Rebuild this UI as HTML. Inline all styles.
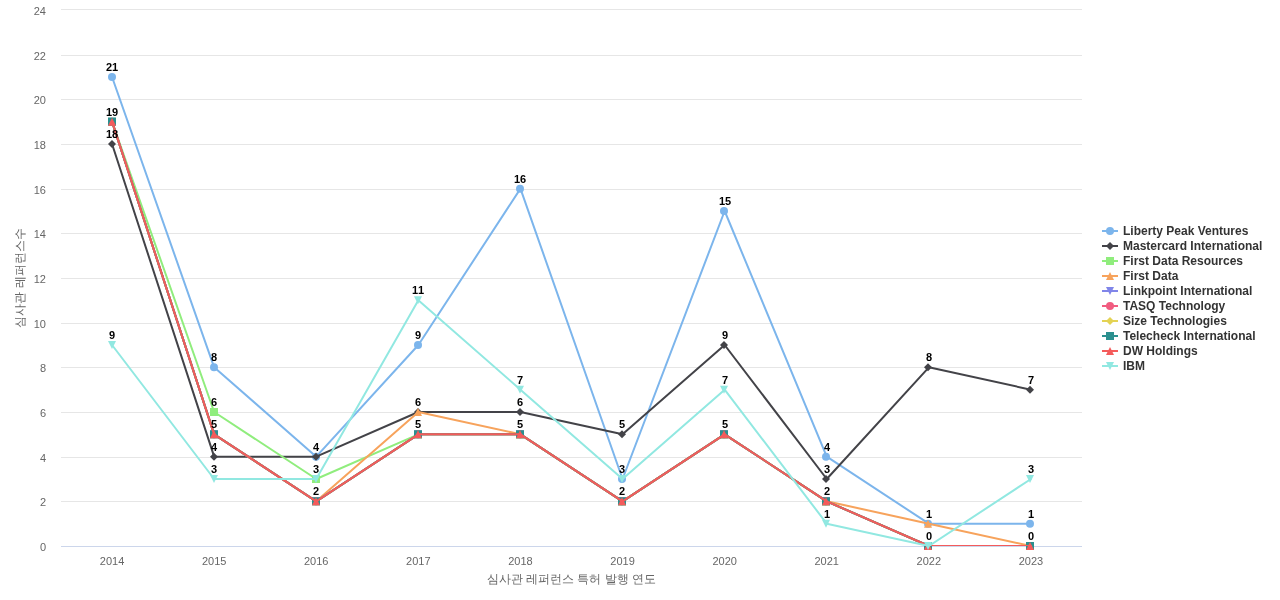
<!DOCTYPE html>
<html lang="ko"><head><meta charset="utf-8"><title>심사관 레퍼런스 수</title>
<style>html,body{margin:0;padding:0;background:#fff;overflow:hidden}body{width:1280px;height:600px}svg{display:block;font-family:'Liberation Sans', 'WenQuanYi Zen Hei', sans-serif;font-size:12px}.ax text{fill:#666;font-size:11px}.ttl{fill:#666;font-size:12px}.grid path{stroke:#e6e6e6;stroke-width:1;fill:none}.ln{fill:none;stroke-width:2;stroke-linejoin:round;stroke-linecap:round}.dl text{font-size:11px;font-weight:bold;fill:#000;font-kerning:none}.lg text{font-size:12px;font-weight:bold;fill:#333}</style></head><body>
<svg width="1280" height="600" viewBox="0 0 1280 600">
<defs><clipPath id="pc"><rect x="0" y="0" width="1021" height="536"/></clipPath></defs>
<rect x="0" y="0" width="1280" height="600" fill="#ffffff"/>
<g class="grid">
<path d="M61 546.5L1082 546.5"/>
<path d="M61 501.5L1082 501.5"/>
<path d="M61 457.5L1082 457.5"/>
<path d="M61 412.5L1082 412.5"/>
<path d="M61 367.5L1082 367.5"/>
<path d="M61 323.5L1082 323.5"/>
<path d="M61 278.5L1082 278.5"/>
<path d="M61 233.5L1082 233.5"/>
<path d="M61 189.5L1082 189.5"/>
<path d="M61 144.5L1082 144.5"/>
<path d="M61 99.5L1082 99.5"/>
<path d="M61 55.5L1082 55.5"/>
<path d="M61 9.5L1082 9.5"/>
</g>
<path d="M61 546.5L1082 546.5" stroke="#ccd6eb" stroke-width="1" fill="none"/>
<text class="ttl" x="487 499 511 523 526 538 550 562 574 577 589 601 605 617 629 632 644" y="583">심사관 레퍼런스 특허 발행 연도</text>
<text class="ttl" transform="translate(24 278) rotate(-90)" x="-50 -38 -26 -14 -10 2 14 26 38" y="0">심사관 레퍼런스수</text>
<g transform="translate(61 10)">
<g clip-path="url(#pc)"><path class="ln" stroke="#7cb5ec" d="M51.05 67L153.15 357.33L255.25 446.67L357.35 335L459.45 178.67L561.55 469L663.65 201L765.75 446.67L867.85 513.67L969.95 513.67"/></g>
<g fill="#7cb5ec"><circle cx="51" cy="67" r="4"/><circle cx="153" cy="357.33" r="4"/><circle cx="255" cy="446.67" r="4"/><circle cx="357" cy="335" r="4"/><circle cx="459" cy="178.67" r="4"/><circle cx="561" cy="469" r="4"/><circle cx="663" cy="201" r="4"/><circle cx="765" cy="446.67" r="4"/><circle cx="867" cy="513.67" r="4"/><circle cx="969" cy="513.67" r="4"/></g>
</g>
<g transform="translate(61 10)">
<g clip-path="url(#pc)"><path class="ln" stroke="#434348" d="M51.05 134L153.15 446.67L255.25 446.67L357.35 402L459.45 402L561.55 424.33L663.65 335L765.75 469L867.85 357.33L969.95 379.67"/></g>
<g fill="#434348"><path d="M51 130L55 134 51 138 47 134Z"/><path d="M153 442.67L157 446.67 153 450.67 149 446.67Z"/><path d="M255 442.67L259 446.67 255 450.67 251 446.67Z"/><path d="M357 398L361 402 357 406 353 402Z"/><path d="M459 398L463 402 459 406 455 402Z"/><path d="M561 420.33L565 424.33 561 428.33 557 424.33Z"/><path d="M663 331L667 335 663 339 659 335Z"/><path d="M765 465L769 469 765 473 761 469Z"/><path d="M867 353.33L871 357.33 867 361.33 863 357.33Z"/><path d="M969 375.67L973 379.67 969 383.67 965 379.67Z"/></g>
</g>
<g transform="translate(61 10)">
<g clip-path="url(#pc)"><path class="ln" stroke="#90ed7d" d="M51.05 111.67L153.15 402L255.25 469L357.35 424.33L459.45 424.33L561.55 491.33L663.65 424.33L765.75 491.33L867.85 536L969.95 536"/></g>
<g fill="#90ed7d"><path d="M47 107.67h8v8h-8Z"/><path d="M149 398h8v8h-8Z"/><path d="M251 465h8v8h-8Z"/><path d="M353 420.33h8v8h-8Z"/><path d="M455 420.33h8v8h-8Z"/><path d="M557 487.33h8v8h-8Z"/><path d="M659 420.33h8v8h-8Z"/><path d="M761 487.33h8v8h-8Z"/><path d="M863 532h8v8h-8Z"/><path d="M965 532h8v8h-8Z"/></g>
</g>
<g transform="translate(61 10)">
<g clip-path="url(#pc)"><path class="ln" stroke="#f7a35c" d="M51.05 111.67L153.15 424.33L255.25 491.33L357.35 402L459.45 424.33L561.55 491.33L663.65 424.33L765.75 491.33L867.85 513.67L969.95 536"/></g>
<g fill="#f7a35c"><path d="M51 107.67L55 115.67 47 115.67Z"/><path d="M153 420.33L157 428.33 149 428.33Z"/><path d="M255 487.33L259 495.33 251 495.33Z"/><path d="M357 398L361 406 353 406Z"/><path d="M459 420.33L463 428.33 455 428.33Z"/><path d="M561 487.33L565 495.33 557 495.33Z"/><path d="M663 420.33L667 428.33 659 428.33Z"/><path d="M765 487.33L769 495.33 761 495.33Z"/><path d="M867 509.67L871 517.67 863 517.67Z"/><path d="M969 532L973 540 965 540Z"/></g>
</g>
<g transform="translate(61 10)">
<g clip-path="url(#pc)"><path class="ln" stroke="#8085e9" d="M51.05 111.67L153.15 424.33L255.25 491.33L357.35 424.33L459.45 424.33L561.55 491.33L663.65 424.33L765.75 491.33L867.85 536L969.95 536"/></g>
<g fill="#8085e9"><path d="M47 107.67L55 107.67 51 115.67Z"/><path d="M149 420.33L157 420.33 153 428.33Z"/><path d="M251 487.33L259 487.33 255 495.33Z"/><path d="M353 420.33L361 420.33 357 428.33Z"/><path d="M455 420.33L463 420.33 459 428.33Z"/><path d="M557 487.33L565 487.33 561 495.33Z"/><path d="M659 420.33L667 420.33 663 428.33Z"/><path d="M761 487.33L769 487.33 765 495.33Z"/><path d="M863 532L871 532 867 540Z"/><path d="M965 532L973 532 969 540Z"/></g>
</g>
<g transform="translate(61 10)">
<g clip-path="url(#pc)"><path class="ln" stroke="#f15c80" d="M51.05 111.67L153.15 424.33L255.25 491.33L357.35 424.33L459.45 424.33L561.55 491.33L663.65 424.33L765.75 491.33L867.85 536L969.95 536"/></g>
<g fill="#f15c80"><circle cx="51" cy="111.67" r="4"/><circle cx="153" cy="424.33" r="4"/><circle cx="255" cy="491.33" r="4"/><circle cx="357" cy="424.33" r="4"/><circle cx="459" cy="424.33" r="4"/><circle cx="561" cy="491.33" r="4"/><circle cx="663" cy="424.33" r="4"/><circle cx="765" cy="491.33" r="4"/><circle cx="867" cy="536" r="4"/><circle cx="969" cy="536" r="4"/></g>
</g>
<g transform="translate(61 10)">
<g clip-path="url(#pc)"><path class="ln" stroke="#e4d354" d="M51.05 111.67L153.15 424.33L255.25 491.33L357.35 424.33L459.45 424.33L561.55 491.33L663.65 424.33L765.75 491.33L867.85 536L969.95 536"/></g>
<g fill="#e4d354"><path d="M51 107.67L55 111.67 51 115.67 47 111.67Z"/><path d="M153 420.33L157 424.33 153 428.33 149 424.33Z"/><path d="M255 487.33L259 491.33 255 495.33 251 491.33Z"/><path d="M357 420.33L361 424.33 357 428.33 353 424.33Z"/><path d="M459 420.33L463 424.33 459 428.33 455 424.33Z"/><path d="M561 487.33L565 491.33 561 495.33 557 491.33Z"/><path d="M663 420.33L667 424.33 663 428.33 659 424.33Z"/><path d="M765 487.33L769 491.33 765 495.33 761 491.33Z"/><path d="M867 532L871 536 867 540 863 536Z"/><path d="M969 532L973 536 969 540 965 536Z"/></g>
</g>
<g transform="translate(61 10)">
<g clip-path="url(#pc)"><path class="ln" stroke="#2b908f" d="M51.05 111.67L153.15 424.33L255.25 491.33L357.35 424.33L459.45 424.33L561.55 491.33L663.65 424.33L765.75 491.33L867.85 536L969.95 536"/></g>
<g fill="#2b908f"><path d="M47 107.67h8v8h-8Z"/><path d="M149 420.33h8v8h-8Z"/><path d="M251 487.33h8v8h-8Z"/><path d="M353 420.33h8v8h-8Z"/><path d="M455 420.33h8v8h-8Z"/><path d="M557 487.33h8v8h-8Z"/><path d="M659 420.33h8v8h-8Z"/><path d="M761 487.33h8v8h-8Z"/><path d="M863 532h8v8h-8Z"/><path d="M965 532h8v8h-8Z"/></g>
</g>
<g transform="translate(61 10)">
<g clip-path="url(#pc)"><path class="ln" stroke="#f45b5b" d="M51.05 111.67L153.15 424.33L255.25 491.33L357.35 424.33L459.45 424.33L561.55 491.33L663.65 424.33L765.75 491.33L867.85 536L969.95 536"/></g>
<g fill="#f45b5b"><path d="M51 107.67L55 115.67 47 115.67Z"/><path d="M153 420.33L157 428.33 149 428.33Z"/><path d="M255 487.33L259 495.33 251 495.33Z"/><path d="M357 420.33L361 428.33 353 428.33Z"/><path d="M459 420.33L463 428.33 455 428.33Z"/><path d="M561 487.33L565 495.33 557 495.33Z"/><path d="M663 420.33L667 428.33 659 428.33Z"/><path d="M765 487.33L769 495.33 761 495.33Z"/><path d="M867 532L871 540 863 540Z"/><path d="M969 532L973 540 965 540Z"/></g>
</g>
<g transform="translate(61 10)">
<g clip-path="url(#pc)"><path class="ln" stroke="#91e8e1" d="M51.05 335L153.15 469L255.25 469L357.35 290.33L459.45 379.67L561.55 469L663.65 379.67L765.75 513.67L867.85 536L969.95 469"/></g>
<g fill="#91e8e1"><path d="M47 331L55 331 51 339Z"/><path d="M149 465L157 465 153 473Z"/><path d="M251 465L259 465 255 473Z"/><path d="M353 286.33L361 286.33 357 294.33Z"/><path d="M455 375.67L463 375.67 459 383.67Z"/><path d="M557 465L565 465 561 473Z"/><path d="M659 375.67L667 375.67 663 383.67Z"/><path d="M761 509.67L769 509.67 765 517.67Z"/><path d="M863 532L871 532 867 540Z"/><path d="M965 465L973 465 969 473Z"/></g>
</g>
<g class="ax" text-anchor="middle">
<text x="112.05" y="565">2014</text>
<text x="214.15" y="565">2015</text>
<text x="316.25" y="565">2016</text>
<text x="418.35" y="565">2017</text>
<text x="520.45" y="565">2018</text>
<text x="622.55" y="565">2019</text>
<text x="724.65" y="565">2020</text>
<text x="826.75" y="565">2021</text>
<text x="928.85" y="565">2022</text>
<text x="1030.95" y="565">2023</text>
</g>
<g class="ax" text-anchor="end">
<text x="46" y="551">0</text>
<text x="46" y="506.33">2</text>
<text x="46" y="461.67">4</text>
<text x="46" y="417">6</text>
<text x="46" y="372.33">8</text>
<text x="46" y="327.67">10</text>
<text x="46" y="283">12</text>
<text x="46" y="238.33">14</text>
<text x="46" y="193.67">16</text>
<text x="46" y="149">18</text>
<text x="46" y="104.33">20</text>
<text x="46" y="59.67">22</text>
<text x="46" y="15">24</text>
</g>
<g class="dl">
<text x="106" y="71">21</text>
<text x="211" y="361">8</text>
<text x="415" y="339">9</text>
<text x="514" y="183">16</text>
<text x="719" y="205">15</text>
<text x="824" y="451">4</text>
<text x="926" y="518">1</text>
<text x="1028" y="518">1</text>
<text x="106" y="138">18</text>
<text x="211" y="451">4</text>
<text x="313" y="451">4</text>
<text x="415" y="406">6</text>
<text x="517" y="406">6</text>
<text x="619" y="428">5</text>
<text x="722" y="339">9</text>
<text x="824" y="473">3</text>
<text x="926" y="361">8</text>
<text x="1028" y="384">7</text>
<text x="211" y="406">6</text>
<text x="109" y="339">9</text>
<text x="211" y="473">3</text>
<text x="313" y="473">3</text>
<text x="412" y="294">11</text>
<text x="517" y="384">7</text>
<text x="619" y="473">3</text>
<text x="722" y="384">7</text>
<text x="824" y="518">1</text>
<text x="1028" y="473">3</text>
<text x="106" y="116">19</text>
<text x="211" y="428">5</text>
<text x="313" y="495">2</text>
<text x="415" y="428">5</text>
<text x="517" y="428">5</text>
<text x="619" y="495">2</text>
<text x="722" y="428">5</text>
<text x="824" y="495">2</text>
<text x="926" y="540">0</text>
<text x="1028" y="540">0</text>
</g>
<g class="lg">
<g transform="translate(1102 231)">
<path d="M0 0L16 0" stroke="#7cb5ec" stroke-width="2" fill="none"/>
<g fill="#7cb5ec"><circle cx="8" cy="0" r="4"/></g>
<text x="21" y="3.5">Liberty Peak Ventures</text>
</g>
<g transform="translate(1102 246)">
<path d="M0 0L16 0" stroke="#434348" stroke-width="2" fill="none"/>
<g fill="#434348"><path d="M8 -4L12 0 8 4 4 0Z"/></g>
<text x="21" y="3.5">Mastercard International</text>
</g>
<g transform="translate(1102 261)">
<path d="M0 0L16 0" stroke="#90ed7d" stroke-width="2" fill="none"/>
<g fill="#90ed7d"><path d="M4 -4h8v8h-8Z"/></g>
<text x="21" y="3.5">First Data Resources</text>
</g>
<g transform="translate(1102 276)">
<path d="M0 0L16 0" stroke="#f7a35c" stroke-width="2" fill="none"/>
<g fill="#f7a35c"><path d="M8 -4L12 4 4 4Z"/></g>
<text x="21" y="3.5">First Data</text>
</g>
<g transform="translate(1102 291)">
<path d="M0 0L16 0" stroke="#8085e9" stroke-width="2" fill="none"/>
<g fill="#8085e9"><path d="M4 -4L12 -4 8 4Z"/></g>
<text x="21" y="3.5">Linkpoint International</text>
</g>
<g transform="translate(1102 306)">
<path d="M0 0L16 0" stroke="#f15c80" stroke-width="2" fill="none"/>
<g fill="#f15c80"><circle cx="8" cy="0" r="4"/></g>
<text x="21" y="3.5">TASQ Technology</text>
</g>
<g transform="translate(1102 321)">
<path d="M0 0L16 0" stroke="#e4d354" stroke-width="2" fill="none"/>
<g fill="#e4d354"><path d="M8 -4L12 0 8 4 4 0Z"/></g>
<text x="21" y="3.5">Size Technologies</text>
</g>
<g transform="translate(1102 336)">
<path d="M0 0L16 0" stroke="#2b908f" stroke-width="2" fill="none"/>
<g fill="#2b908f"><path d="M4 -4h8v8h-8Z"/></g>
<text x="21" y="3.5">Telecheck International</text>
</g>
<g transform="translate(1102 351)">
<path d="M0 0L16 0" stroke="#f45b5b" stroke-width="2" fill="none"/>
<g fill="#f45b5b"><path d="M8 -4L12 4 4 4Z"/></g>
<text x="21" y="3.5">DW Holdings</text>
</g>
<g transform="translate(1102 366)">
<path d="M0 0L16 0" stroke="#91e8e1" stroke-width="2" fill="none"/>
<g fill="#91e8e1"><path d="M4 -4L12 -4 8 4Z"/></g>
<text x="21" y="3.5">IBM</text>
</g>
</g>
</svg></body></html>
